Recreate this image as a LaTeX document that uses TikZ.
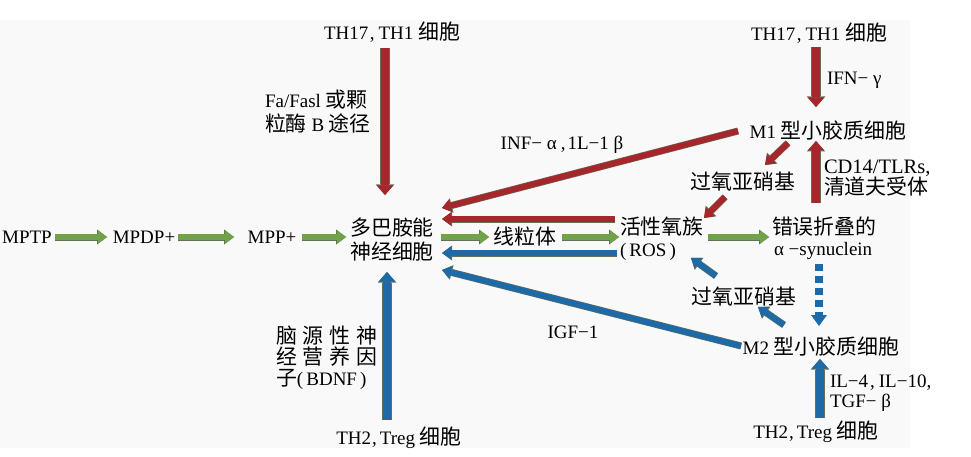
\documentclass[tikz,border=0pt]{standalone}
\usepackage{fontspec}
\setmainfont{Liberation Serif}
\newfontfamily\cjk{Noto Sans CJK SC}[Scale=1.1]
\usetikzlibrary{arrows.meta}
\definecolor{cred}{RGB}{166,38,44}
\definecolor{cgreen}{RGB}{112,163,72}
\definecolor{cblue}{RGB}{30,106,168}
\definecolor{outl}{RGB}{100,112,84}
\definecolor{panel}{RGB}{249,249,249}
\newcommand{\zh}[1]{{\cjk #1}}
\begin{document}
\begin{tikzpicture}[x=1pt,y=-1pt,
  txt/.style={inner sep=0pt, outer sep=0pt, font=\fontsize{19}{24}\selectfont},
  bigA/.style={preaction={draw=outl, line width=9.6pt, -{Triangle[length=10.5pt,width=18.5pt,line width=0pt]}},
               line width=8.4pt, -{Triangle[length=9.5pt,width=16.5pt,line width=0pt]}},
  smallA/.style={preaction={draw=outl, line width=7pt, -{Triangle[length=10pt,width=15pt,line width=0pt]}},
               line width=5.8pt, -{Triangle[length=9pt,width=13pt,line width=0pt]}},
  dashA/.style={line width=8pt, dash pattern=on 7pt off 5pt, -{Triangle[length=11pt,width=16pt,line width=0pt]}}
]
\useasboundingbox (0,0) rectangle (971,457);
\fill[panel] (0,20) rectangle (910,448);

% ---------- text nodes ----------
\node[txt] (mptp) at (27,237) {MPTP};
\node[txt] (mpdp) at (144,237) {MPDP+};
\node[txt] (mpp) at (272,237) {MPP+};
\node[txt, align=center] (neuron) at (392,240) {\zh{多巴胺能}\\\zh{神经细胞}};
\node[txt] (th17l) at (392,32) {TH17\kern1.5pt,\kern4pt TH1 \zh{细胞}};
\node[txt, anchor=west, align=left] (fas) at (265,112) {Fa/Fasl \zh{或颗}\\\zh{粒酶} B \zh{途径}};
\node[txt] (inf) at (562,145) {INF− α\hspace{4pt},\hspace{2pt}1L−1 β};
\node[txt] (mito) at (525,237) {\zh{线粒体}};
\node[txt, anchor=west, align=left, font=\fontsize{19}{22}\selectfont] (ros) at (620,239) {\zh{活性氧族}\\(\,ROS\,)};
\node[txt, anchor=west, align=left, font=\fontsize{19}{20.5}\selectfont] (syn) at (772,238) {\zh{错误折叠的}\\\hspace{2pt}α −synuclein};
\node[txt] (m1) at (828,131) {M1 \zh{型小胶质细胞}};
\node[txt] (th17r) at (819,33) {TH17\kern1.5pt,\kern4pt TH1 \zh{细胞}};
\node[txt, anchor=west] (ifn) at (827,80) {IFN− γ};
\node[txt, anchor=west, align=left, font=\fontsize{20.5}{20.5}\selectfont] (cd14) at (824,178) {CD14/TLRs,\\{\fontsize{19}{20.5}\selectfont\zh{清道夫受体}}};
\node[txt] (per1) at (743,182) {\zh{过氧亚硝基}};
\node[txt] (per2) at (744,297) {\zh{过氧亚硝基}};
\node[txt] (m2) at (821,347) {M2 \zh{型小胶质细胞}};
\node[txt, anchor=west, align=left, font=\fontsize{19}{20.5}\selectfont] (il) at (830,393) {IL−4\hspace{2pt},\hspace{4pt}IL−10,\\TGF− β};
\node[txt] (th2r) at (816,432) {TH2\kern1pt,\kern3pt Treg \zh{细胞}};
\node[txt] (th2l) at (399,438) {TH2\kern1pt,\kern3pt Treg \zh{细胞}};
\node[txt, anchor=west, align=left, font=\fontsize{19}{21}\selectfont] (bdnf) at (276,358)
  {\makebox[101pt][s]{\zh{脑}\hfil\zh{源}\hfil\zh{性}\hfil\zh{神}}\\
   \makebox[101pt][s]{\zh{经}\hfil\zh{营}\hfil\zh{养}\hfil\zh{因}}\\
   \zh{子}(\,BDNF\,)};
\node[txt] (igf) at (573,332) {IGF−1};

% ---------- arrow end points ----------
\coordinate (a1s) at (55,237);   \coordinate (a1e) at (107,237);
\coordinate (a2s) at (178,237);  \coordinate (a2e) at (234,237);
\coordinate (a3s) at (302,237);  \coordinate (a3e) at (346,237);
\coordinate (rvs) at (385,48);   \coordinate (rve) at (385,195);
\coordinate (rds) at (738,131);  \coordinate (rde) at (442,208);
\coordinate (rhs) at (615,219);  \coordinate (rhe) at (442,219);
\coordinate (g4s) at (441,237);  \coordinate (g4e) at (489,237);
\coordinate (g5s) at (562,237);  \coordinate (g5e) at (619,237);
\coordinate (bhs) at (617,253);  \coordinate (bhe) at (442,253);
\coordinate (bds) at (741,346);  \coordinate (bde) at (442,270);
\coordinate (g6s) at (708,237);  \coordinate (g6e) at (769,237);
\coordinate (ifs) at (816,47);   \coordinate (ife) at (816,107);
\coordinate (cds) at (816,203);  \coordinate (cde) at (816,141);
\coordinate (s1s) at (788,143);  \coordinate (s1e) at (765,165);
\coordinate (s2s) at (725,197);  \coordinate (s2e) at (704,218);
\coordinate (dss) at (819,264);  \coordinate (dse) at (819,326);
\coordinate (b1s) at (716,276);  \coordinate (b1e) at (691,258);
\coordinate (b2s) at (784,325);  \coordinate (b2e) at (758,307);
\coordinate (brs) at (820,418);  \coordinate (bre) at (820,359);
\coordinate (bls) at (387,420);  \coordinate (ble) at (387,272);

% ---------- arrows ----------
\draw[smallA, draw=cgreen] (a1s) -- (a1e);
\draw[smallA, draw=cgreen] (a2s) -- (a2e);
\draw[smallA, draw=cgreen] (a3s) -- (a3e);
\draw[bigA, draw=cred] (rvs) -- (rve);
\draw[smallA, draw=cred] (rds) -- (rde);
\draw[smallA, draw=cred] (rhs) -- (rhe);
\draw[smallA, draw=cgreen] (g4s) -- (g4e);
\draw[smallA, draw=cgreen] (g5s) -- (g5e);
\draw[smallA, draw=cblue] (bhs) -- (bhe);
\draw[smallA, draw=cblue] (bds) -- (bde);
\draw[smallA, draw=cgreen] (g6s) -- (g6e);
\draw[bigA, draw=cred] (ifs) -- (ife);
\draw[bigA, draw=cred] (cds) -- (cde);
\draw[smallA, draw=cred] (s1s) -- (s1e);
\draw[smallA, draw=cred] (s2s) -- (s2e);
\draw[dashA, draw=cblue] (dss) -- (dse);
\draw[smallA, draw=cblue] (b1s) -- (b1e);
\draw[smallA, draw=cblue] (b2s) -- (b2e);
\draw[bigA, draw=cblue] (brs) -- (bre);
\draw[bigA, draw=cblue] (bls) -- (ble);
\end{tikzpicture}
\end{document}
